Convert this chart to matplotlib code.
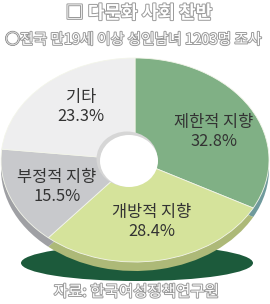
import matplotlib.pyplot as plt
from matplotlib.patches import Ellipse
from matplotlib.transforms import Affine2D
import matplotlib.patheffects as pe

plt.rcParams['font.family'] = ['Noto Sans CJK KR', 'DejaVu Sans']

# data
title = '□ 다문화 사회 찬반'
subtitle = '○전국 만19세 이상 성인남녀 1203명 조사'
source = '자료: 한국여성정책연구원'
labels = ['제한적 지향', '개방적 지향', '부정적 지향', '기타']
shares = [32.8, 28.4, 15.5, 23.3]

# styles
top_colors = ['#80b085', '#d5e39b', '#c8c9cc', '#eeeeef']
side_colors = ['#6f9a9c', '#adb978', '#9fa0a4', '#c4c4c6']
label_pos = [(214, 132), (152, 222), (57, 187), (81, 107)]  # pixel coords

W, H = 270, 304
fig = plt.figure(figsize=(W / 100, H / 100), dpi=100)
ax = fig.add_axes([0, 0, 1, 1])

# pie geometry (pixels, y measured from top)
cx, cy = 135, H - 160
rx, ry = 134, 102
depth = 9


def flatten(dy=0):
    # squash the circular pie into an ellipse, optionally pushed down
    return (Affine2D().translate(-cx, -cy).scale(1, ry / rx)
            .translate(cx, cy - dy) + ax.transData)


# dark green shadow under the disc
ax.add_patch(Ellipse((137, H - 263), 232, 36, color='#1c5a3b', lw=0, zorder=0))

# side wall
side, _ = ax.pie(shares, colors=side_colors, startangle=90, counterclock=False,
                 center=(cx, cy), radius=rx, wedgeprops=dict(linewidth=0))
for w in side:
    w.set_transform(flatten(depth))

# top surface
top, _ = ax.pie(shares, colors=top_colors, startangle=90, counterclock=False,
                center=(cx, cy), radius=rx,
                wedgeprops=dict(edgecolor='#f3f5ea', linewidth=0.6))
for w in top:
    w.set_transform(flatten(0))

# hole
ax.add_patch(Ellipse((127, H - 159), 61, 55, color='#d6d6d6', lw=0, zorder=3))
ax.add_patch(Ellipse((129, H - 161), 58, 52, color='white', lw=0, zorder=4))

for lab, val, (px, py) in zip(labels, shares, label_pos):
    ax.text(px, H - py, f'{lab}\n{val:.1f}%', ha='center', va='center',
            fontsize=11.8, color='#333333', linespacing=1.2, zorder=5)

outline = [pe.withStroke(linewidth=1.4, foreground='#9a9a9a')]
ax.text(139, H - 13, title, ha='center', va='center', fontsize=13,
        fontweight='bold', color='white', path_effects=outline)
ax.text(133, H - 40, subtitle, ha='center', va='center', fontsize=10.6,
        color='white', path_effects=outline)
ax.text(136, H - 292, source, ha='center', va='center', fontsize=11.2,
        color='white', path_effects=outline)

ax.set_aspect('auto')
ax.set_xlim(0, W)
ax.set_ylim(0, H)
ax.axis('off')

fig.savefig('out.png', dpi=100, facecolor='white')
